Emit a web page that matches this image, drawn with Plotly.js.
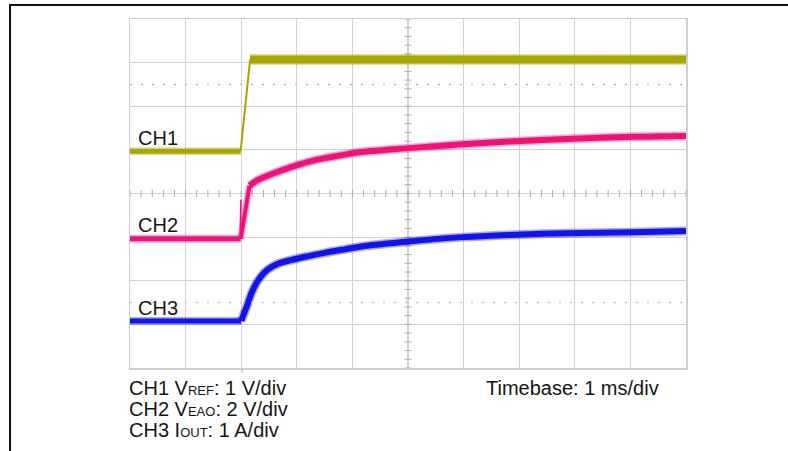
<!DOCTYPE html>
<html>
<head>
<meta charset="utf-8">
<script src="https://cdn.plot.ly/plotly-3.0.1.min.js"></script>
<style>
html,body{margin:0;padding:0;background:#fff;}
#chart{width:788px;height:451px;}
</style>
</head>
<body>
<div id="chart"></div>
<script>
// ---- Data (time in divisions, 1 div = 1 ms; amplitude in screen divisions) ----
const ch1Time = [0, 1.99, 2.16, 10];
const ch1Level = [4.97, 4.97, 7.07, 7.07];

const ch2Time = [0, 1.99, 2.15, 2.30, 2.60, 2.91, 3.19, 3.50, 3.86, 4.08, 5.01, 5.99, 6.83, 7.86, 9.05, 10];
const ch2Level = [2.96, 2.96, 4.18, 4.31, 4.47, 4.61, 4.72, 4.81, 4.89, 4.94, 5.04, 5.13, 5.19, 5.25, 5.30, 5.32];
const ch2SpikeTime = [1.98, 1.995];
const ch2SpikeLevel = [2.96, 3.86];

const ch3Time = [0, 2.0, 2.03, 2.10, 2.19, 2.28, 2.37, 2.48, 2.66, 2.91, 3.19, 3.50, 3.86, 4.19, 5.01, 5.99, 6.83, 7.86, 9.05, 10];
const ch3Level = [1.08, 1.08, 1.18, 1.41, 1.73, 1.96, 2.12, 2.26, 2.39, 2.48, 2.56, 2.64, 2.72, 2.79, 2.90, 3.00, 3.05, 3.09, 3.11, 3.14];

const channelLabels = ["CH1", "CH2", "CH3"];
const scaleNotes = [
  'CH1 V<span style="font-size:13px">REF</span>: 1 V/div',
  'CH2 V<span style="font-size:13px">EAO</span>: 2 V/div',
  'CH3 I<span style="font-size:13px">OUT</span>: 1 A/div'
];
const timebaseNote = "Timebase: 1 ms/div";

// ---- Styles ----
const C1 = "#aaa500", C2 = "#ec1478", C3 = "#1414e6";
const FONT = "Liberation Sans, Arial, Helvetica, sans-serif";

const traces = [];
function seg(t, v, i0, i1, color, w, smooth) {
  const x = t.slice(i0, i1 + 1), y = v.slice(i0, i1 + 1);
  const line = smooth ? {shape: "spline", smoothing: 0.9} : {};
  if (w > 3) {
    traces.push({x, y, mode: "lines", line: Object.assign({color, width: w + 3}, line), opacity: 0.35, hoverinfo: "skip", showlegend: false});
  }
  traces.push({x, y, mode: "lines", line: Object.assign({color, width: w}, line), hoverinfo: "skip", showlegend: false});
}

// center-line tick marks (graticule decoration)
const vtx = [], vty = [], htx = [], hty = [];
for (let k = 0; k <= 40; k++) { vtx.push(5); vty.push(k * 0.2); }
for (let k = 0; k <= 50; k++) { htx.push(k * 0.2); hty.push(4); }
traces.push({x: vtx, y: vty, mode: "markers", marker: {symbol: "line-ew", size: 5, line: {color: "#ababab", width: 1}}, hoverinfo: "skip", showlegend: false});
traces.push({x: htx, y: hty, mode: "markers", marker: {symbol: "line-ns", size: 5, line: {color: "#ababab", width: 1}}, hoverinfo: "skip", showlegend: false});

// CH1
seg(ch1Time, ch1Level, 0, 1, C1, 5);
seg(ch1Time, ch1Level, 1, 2, C1, 2);
seg(ch1Time, ch1Level, 2, 3, C1, 8);
// CH2
seg(ch2SpikeTime, ch2SpikeLevel, 0, 1, C2, 1.5);
seg(ch2Time, ch2Level, 0, 1, C2, 5);
seg(ch2Time, ch2Level, 1, 2, C2, 4);
seg(ch2Time, ch2Level, 2, ch2Time.length - 1, C2, 6, true);
// CH3
seg(ch3Time, ch3Level, 0, 1, C3, 5);
seg(ch3Time, ch3Level, 1, ch3Time.length - 1, C3, 6, true);

// CH1 reference marker at right edge
traces.push({x: [10.06], y: [6.09], mode: "markers", marker: {symbol: "triangle-left", size: 6, color: C1}, cliponaxis: false, hoverinfo: "skip", showlegend: false});

// pixel -> paper helpers (plot area: x 130..686, y 19..368)
const L = 130, T = 19, W = 556, H = 349;
const px = p => (p - L) / W;
const py = p => (T + H - p) / H;

const annotations = [];
const labelY = [5.28, 3.28, 1.38];
channelLabels.forEach((s, i) => annotations.push({
  text: s, x: 0.1, y: labelY[i], xref: "x", yref: "y", xanchor: "left", yanchor: "middle",
  showarrow: false, font: {family: FONT, size: 20, color: "#151515"}
}));
const noteY = [388, 409, 430];
scaleNotes.forEach((s, i) => annotations.push({
  text: s, x: px(127), y: py(noteY[i]), xref: "paper", yref: "paper", xanchor: "left", yanchor: "middle",
  showarrow: false, font: {family: FONT, size: 20, color: "#151515"}
}));
annotations.push({
  text: timebaseNote, x: px(484), y: py(388), xref: "paper", yref: "paper", xanchor: "left", yanchor: "middle",
  showarrow: false, font: {family: FONT, size: 20, color: "#151515"}
});

const shapes = [
  // dotted cursor lines
  {type: "line", xref: "x", yref: "y", x0: 0, x1: 10, y0: 6.5, y1: 6.5, line: {color: "#b8b8b8", width: 1.5, dash: "2px,9px"}},
  {type: "line", xref: "x", yref: "y", x0: 0, x1: 10, y0: 1.5, y1: 1.5, line: {color: "#c8c8c8", width: 1.5, dash: "2px,9px"}},
  // trigger tick below graticule
  {type: "line", xref: "paper", yref: "paper", x0: px(242), x1: px(242), y0: py(368), y1: py(373), line: {color: "#b0b0b0", width: 1}},
  // outer frame (left and top)
  {type: "line", xref: "paper", yref: "paper", x0: px(10), x1: px(10), y0: py(4), y1: py(452), line: {color: "#111", width: 2}},
  {type: "line", xref: "paper", yref: "paper", x0: px(9), x1: px(790), y0: py(5), y1: py(5), line: {color: "#111", width: 2}}
];

const axisCommon = {
  showticklabels: false, ticks: "", zeroline: false, showgrid: true,
  gridcolor: "#d2d2d2", gridwidth: 1.2, showline: true, linecolor: "#cfcfcf", linewidth: 1.5, mirror: true, fixedrange: true
};

const layout = {
  width: 788, height: 451,
  margin: {l: L, r: 788 - L - W, t: T, b: 451 - T - H, pad: 0},
  paper_bgcolor: "#fff", plot_bgcolor: "#fff",
  xaxis: Object.assign({range: [0, 10], dtick: 1, tick0: 0}, axisCommon),
  yaxis: Object.assign({range: [0, 8], dtick: 1, tick0: 0}, axisCommon),
  showlegend: false,
  annotations, shapes
};

Plotly.newPlot("chart", traces, layout, {staticPlot: true, displayModeBar: false});
</script>
</body>
</html>
